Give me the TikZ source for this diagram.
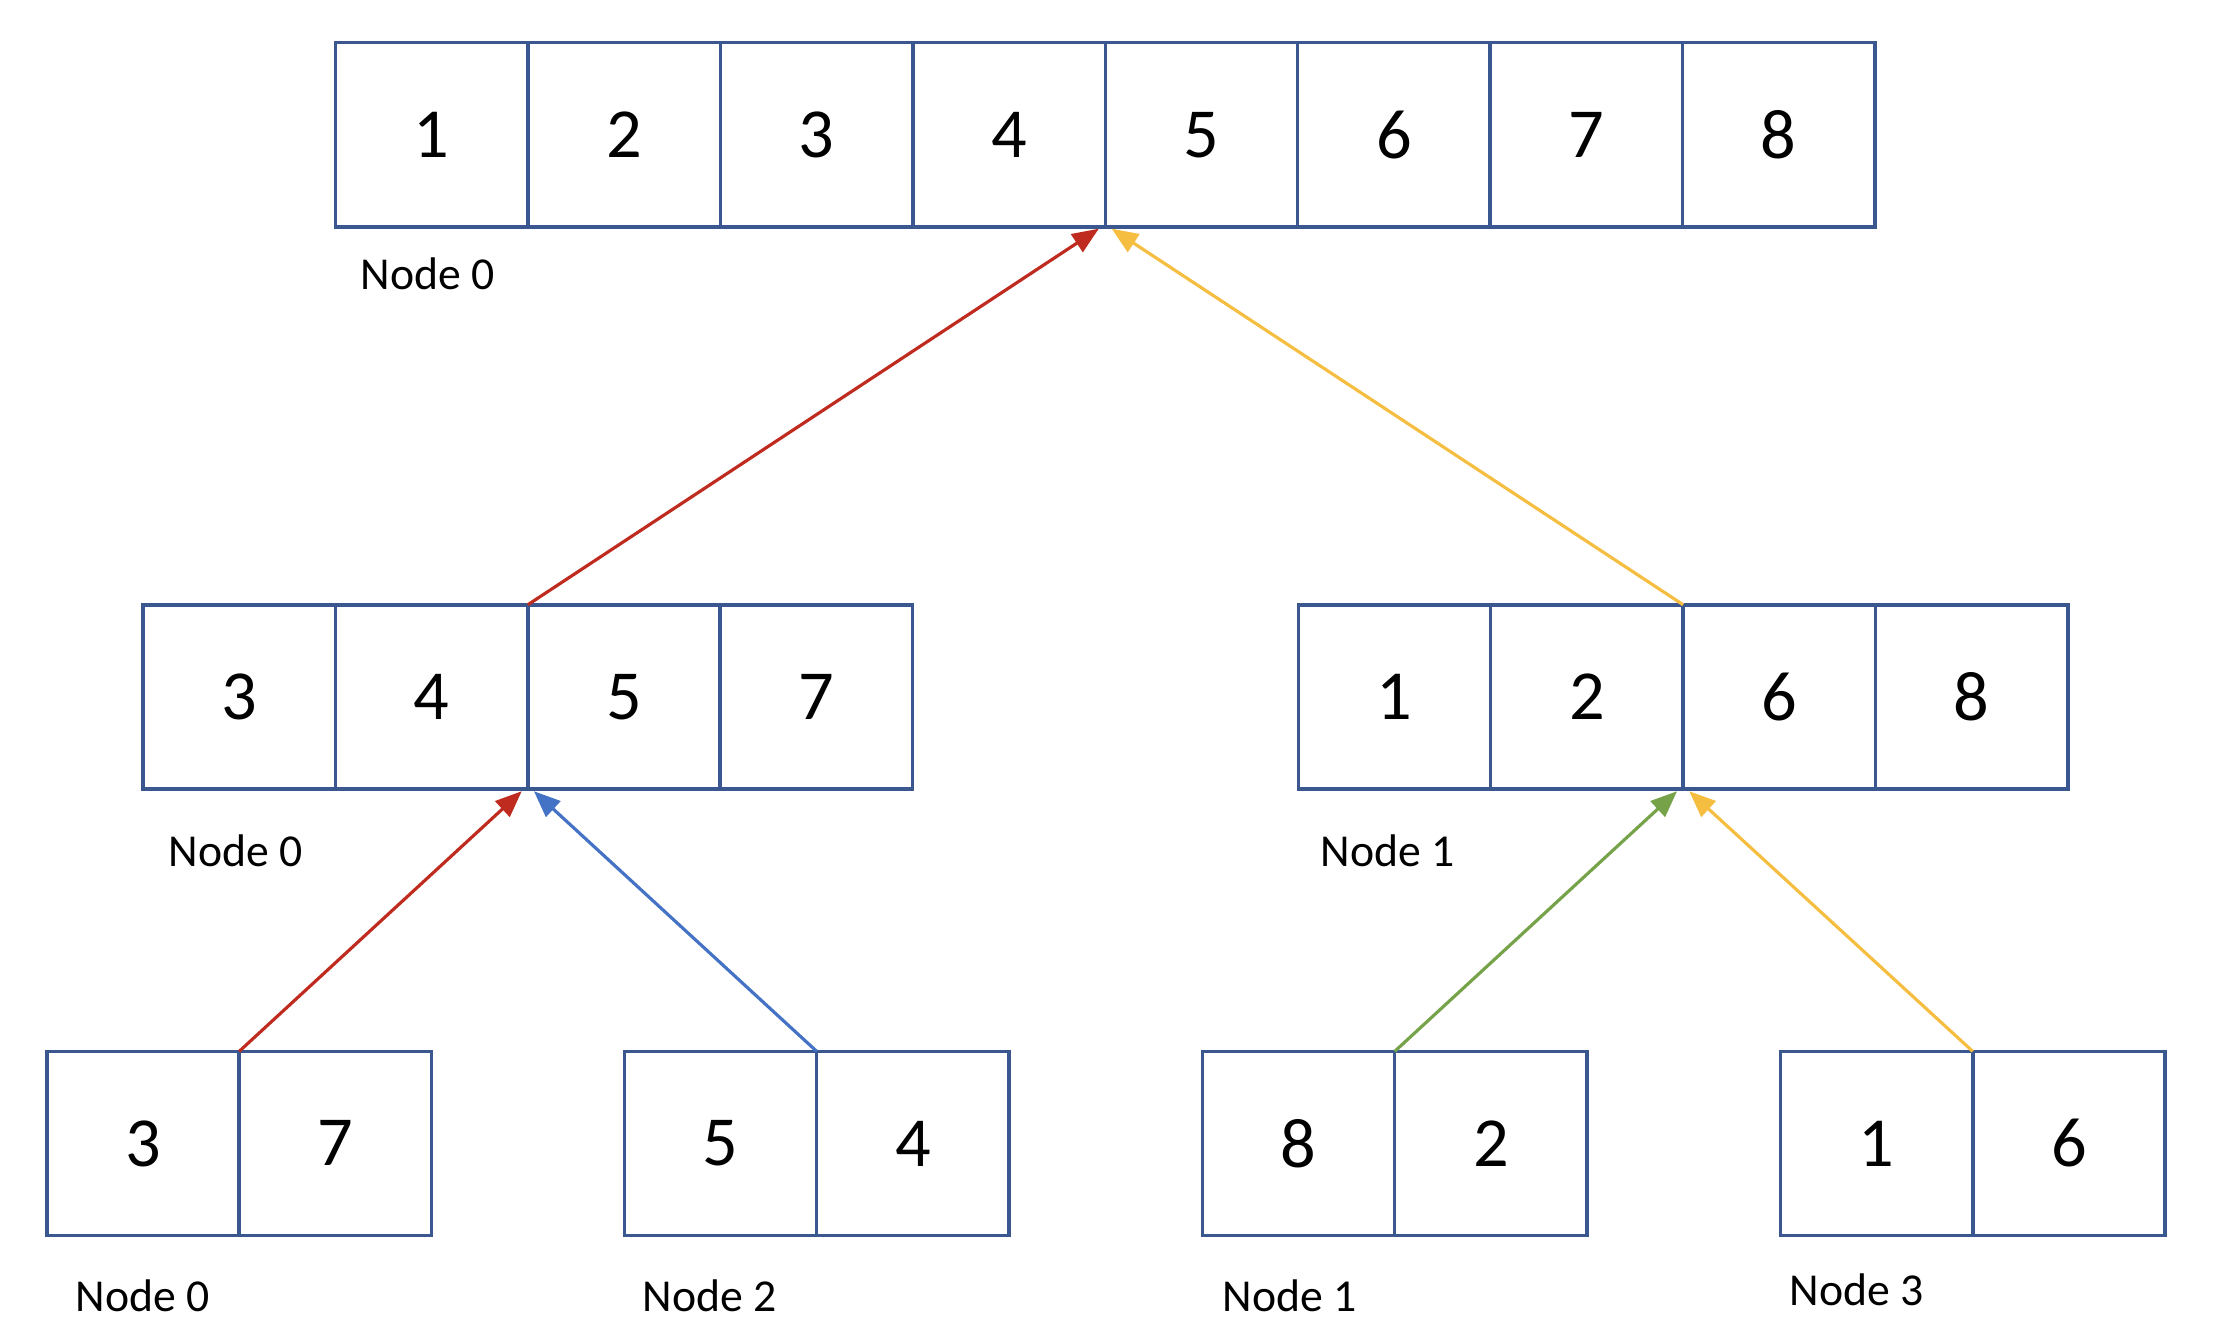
\documentclass[tikz,border=0pt]{standalone}
\usepackage{fontspec}
\setmainfont{Carlito}
\usetikzlibrary{positioning,arrows.meta}

\definecolor{boxblue}{RGB}{59,87,143}
\definecolor{redline}{RGB}{192,43,32}
\definecolor{blueline}{RGB}{68,114,196}
\definecolor{greenline}{RGB}{118,163,74}
\definecolor{yellowline}{RGB}{246,190,65}

\tikzset{
  cell/.style={draw=boxblue, line width=1pt, minimum width=1.923cm,
    minimum height=1.84cm, inner sep=0pt, outer sep=0pt,
    font=\fontsize{20}{24}\selectfont},
  lbl/.style={anchor=west, inner sep=0pt, font=\fontsize{13}{15}\selectfont},
  link/.style={line width=0.9pt, shorten >=1pt,
    -{Triangle[length=7.5pt,width=6pt]}}
}

\begin{document}
\begin{tikzpicture}[x=0.01cm, y=-0.01cm]
\useasboundingbox (0,0) rectangle (2216,1342);

    % Top row: Node 0
    \node[cell] (t1) at (431.8,134.7) {1};
    \node[cell, right=0pt of t1] (t2) {2};
    \node[cell, right=0pt of t2] (t3) {3};
    \node[cell, right=0pt of t3] (t4) {4};
    \node[cell, right=0pt of t4] (t5) {5};
    \node[cell, right=0pt of t5] (t6) {6};
    \node[cell, right=0pt of t6] (t7) {7};
    \node[cell, right=0pt of t7] (t8) {8};
    \node[lbl] (lt) at (360,274) {Node 0};

    % Middle row, left: Node 0
    \node[cell] (a1) at (239.2,696.8) {3};
    \node[cell, right=0pt of a1] (a2) {4};
    \node[cell, right=0pt of a2] (a3) {5};
    \node[cell, right=0pt of a3] (a4) {7};
    \node[lbl] (la) at (168,851) {Node 0};

    % Middle row, right: Node 1
    \node[cell] (b1) at (1394.5,696.8) {1};
    \node[cell, right=0pt of b1] (b2) {2};
    \node[cell, right=0pt of b2] (b3) {6};
    \node[cell, right=0pt of b3] (b4) {8};
    \node[lbl] (lb) at (1320,851) {Node 1};

    % Bottom row
    \node[cell] (p1) at (143,1143.4) {3};
    \node[cell, right=0pt of p1] (p2) {7};
    \node[lbl] (lp) at (75,1296) {Node 0};

    \node[cell] (q1) at (720.5,1143.4) {5};
    \node[cell, right=0pt of q1] (q2) {4};
    \node[lbl] (lq) at (642,1296) {Node 2};

    \node[cell] (r1) at (1298.5,1143.4) {8};
    \node[cell, right=0pt of r1] (r2) {2};
    \node[lbl] (lr) at (1222,1296) {Node 1};

    \node[cell] (s1) at (1876.5,1143.4) {1};
    \node[cell, right=0pt of s1] (s2) {6};
    \node[lbl] (ls) at (1789,1290) {Node 3};

    % Arrows up to the top row
    \draw[link, redline] (a2.north east) -- ([xshift=-1pt]t4.south east);
    \draw[link, yellowline] (b2.north east) -- ([xshift=1pt]t4.south east);

    % Arrows up to the middle rows
    \draw[link, redline] (p1.north east) -- ([xshift=-1pt]a2.south east);
    \draw[link, blueline] (q1.north east) -- ([xshift=1pt]a2.south east);
    \draw[link, greenline] (r1.north east) -- ([xshift=-1pt]b2.south east);
    \draw[link, yellowline] (s1.north east) -- ([xshift=1pt]b2.south east);

\end{tikzpicture}
\end{document}
